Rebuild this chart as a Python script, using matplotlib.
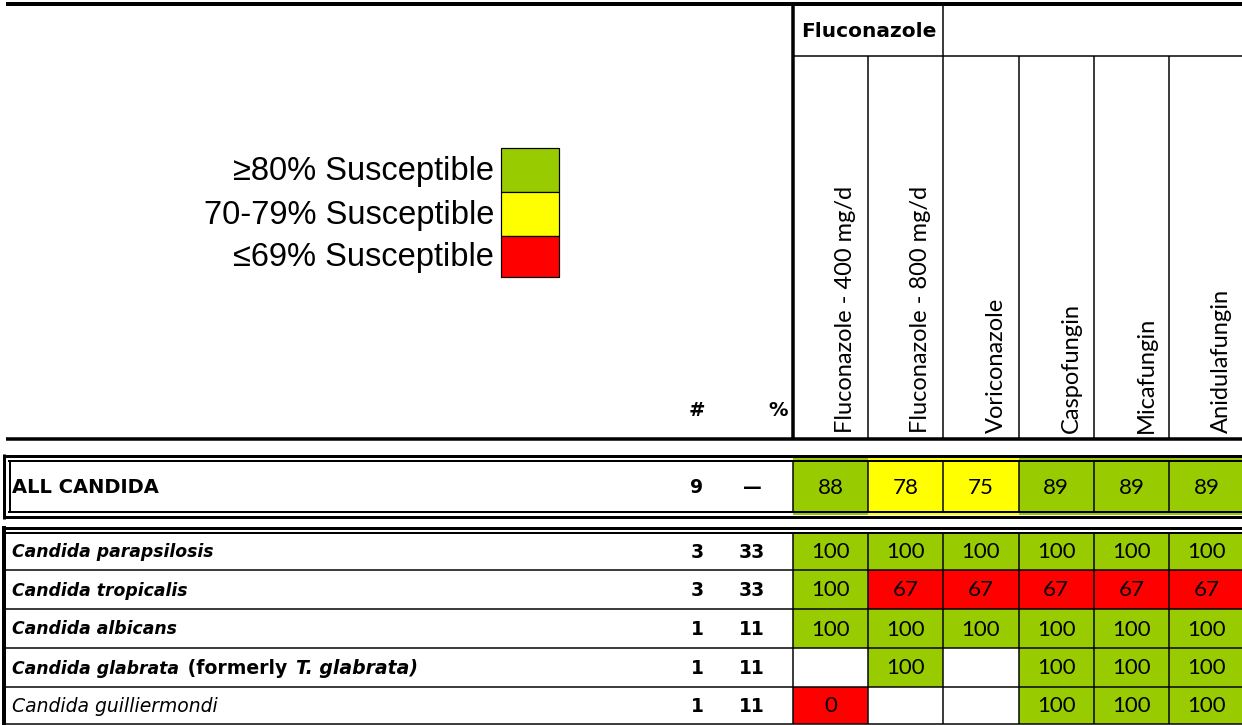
import matplotlib
matplotlib.use('Agg')
import matplotlib.pyplot as plt
from matplotlib.patches import Rectangle

# data
drugs = ['Fluconazole - 400 mg/d', 'Fluconazole - 800 mg/d', 'Voriconazole',
         'Caspofungin', 'Micafungin', 'Anidulafungin']
group_label = 'Fluconazole'
all_label = 'ALL CANDIDA'
all_n = 9
all_pct = '—'
all_vals = [88, 78, 75, 89, 89, 89]
species = ['Candida parapsilosis', 'Candida tropicalis', 'Candida albicans',
           'Candida glabrata', 'Candida guilliermondi']
species_n = [3, 3, 1, 1, 1]
species_pct = [33, 33, 11, 11, 11]
species_vals = [[100, 100, 100, 100, 100, 100],
                [100, 67, 67, 67, 67, 67],
                [100, 100, 100, 100, 100, 100],
                [None, 100, None, 100, 100, 100],
                [0, None, None, 100, 100, 100]]
legend_labels = ['≥80% Susceptible', '70-79% Susceptible', '≤69% Susceptible']

GREEN, YELLOW, RED = '#99cc00', '#ffff00', '#ff0000'
legend_colors = [GREEN, YELLOW, RED]


def cell_color(v):
    if v is None:
        return None
    if v >= 80:
        return GREEN
    if v >= 70:
        return YELLOW
    return RED


W, H = 1242, 725
fig = plt.figure(figsize=(W / 100, H / 100), dpi=100)
ax = fig.add_axes([0, 0, 1, 1])
ax.set_xlim(0, W)
ax.set_ylim(H, 0)
ax.axis('off')

PX = 0.72  # points per pixel


def hline(y, x0, x1, px=1.5):
    ax.plot([x0, x1], [y, y], color='black', lw=px * PX, solid_capstyle='butt')


def vline(x, y0, y1, px=1.5):
    ax.plot([x, x], [y0, y1], color='black', lw=px * PX, solid_capstyle='butt')


# layout (pixels)
col_x0 = 793
col_w = 75.2
col_edges = [col_x0 + i * col_w for i in range(len(drugs) + 1)]
col_mid = [col_x0 + (i + 0.5) * col_w for i in range(len(drugs))]
n_x, pct_x = 697, 752

TAHOMA = 'DejaVu Sans'
CALIBRI = 'Lato'

# ---- legend
leg_top = 148
leg_h = [44, 44, 41]
y = leg_top
for lab, col, h in zip(legend_labels, legend_colors, leg_h):
    ax.add_patch(Rectangle((501, y), 58, h, facecolor=col, edgecolor='black', lw=1.2 * PX))
    ax.text(494, y + h / 2 + 1, lab, ha='right', va='center', fontsize=23.5,
            family='Liberation Sans')
    y += h

# ---- header
hline(3.5, 6, W, 4)
vline(col_x0, 2, 440, 3.5)
vline(col_edges[2], 3, 56, 1.5)
hline(56, col_x0, W, 1.5)
for x in col_edges[1:-1]:
    vline(x, 56, 438, 1.5)
ax.text((col_edges[0] + col_edges[2]) / 2 + 1, 31, group_label, ha='center', va='center',
        fontsize=14.5, fontweight='bold', family=TAHOMA)
for xm, d in zip(col_mid, drugs):
    ax.text(xm + 15, 433, d, rotation=90, ha='center', va='bottom', fontsize=17,
            family=CALIBRI)
ax.text(n_x, 410, '#', ha='center', va='center', fontsize=14, fontweight='bold', family=TAHOMA)
ax.text(788, 410, '%', ha='right', va='center', fontsize=14, fontweight='bold', family=TAHOMA)
hline(438.5, 6, W, 3.5)

# ---- ALL CANDIDA block
all_top, all_bot = 461, 512
for i, v in enumerate(all_vals):
    ax.add_patch(Rectangle((col_edges[i], all_top - 4), col_w, all_bot - all_top + 7,
                           facecolor=cell_color(v), edgecolor='none'))
    ax.text(col_mid[i], (all_top + all_bot) / 2 + 1, str(v), ha='center', va='center',
            fontsize=16, family=CALIBRI)
for x in col_edges[:-1]:
    vline(x, all_top, all_bot, 1.5)
hline(455.5, 3, W, 3)
hline(461, 8, W, 2)
hline(511.5, 8, W, 2)
hline(517, 3, W, 3)
vline(4, 454, 518.5, 3)
vline(9.5, 460, 512.5, 2)
ymid = (all_top + all_bot) / 2 + 1
ax.text(12, ymid, all_label, ha='left', va='center', fontsize=14, fontweight='bold', family=TAHOMA)
ax.text(n_x, ymid, str(all_n), ha='center', va='center', fontsize=13.5, fontweight='bold', family=TAHOMA)
ax.text(pct_x, ymid, all_pct, ha='center', va='center', fontsize=13.5, fontweight='bold', family=TAHOMA)

# ---- species block
row_edges = [532.5, 570, 609, 648, 687, 724]
for r, vals in enumerate(species_vals):
    y0, y1 = row_edges[r], row_edges[r + 1]
    for i, v in enumerate(vals):
        c = cell_color(v)
        if c:
            ax.add_patch(Rectangle((col_edges[i], y0), col_w, y1 - y0, facecolor=c, edgecolor='none'))
            ax.text(col_mid[i], (y0 + y1) / 2 + 1, str(v), ha='center', va='center',
                    fontsize=16, family=CALIBRI)
for y in row_edges[1:]:
    hline(y, 4, W, 1.5)
for x in col_edges[:-1]:
    vline(x, row_edges[0], row_edges[-1], 1.5)
hline(527.5, 2, W, 3)
hline(532.5, 2, W, 2)
vline(4, 526, 725, 4)

fig.canvas.draw()
renderer = fig.canvas.get_renderer()
for r, name in enumerate(species):
    ym = (row_edges[r] + row_edges[r + 1]) / 2 + 1
    last = r == len(species) - 1
    weight = 'normal' if last else 'bold'
    size = 13.5 if last else 12.4
    t = ax.text(12, ym, name, ha='left', va='center', fontsize=size, fontweight=weight,
                style='italic', family=TAHOMA)
    if name == 'Candida glabrata':
        # the rest of this label mixes upright and italic text
        prev = t
        for piece, st in [(' (formerly ', 'normal'), ('T. glabrata)', 'italic')]:
            bb = prev.get_window_extent(renderer)
            x_end = ax.transData.inverted().transform((bb.x1, bb.y0))[0]
            prev = ax.text(x_end + 2, ym, piece, ha='left', va='center', fontsize=13.6,
                           fontweight='bold', style=st, family=TAHOMA)
    ax.text(n_x, ym, str(species_n[r]), ha='center', va='center', fontsize=13.5,
            fontweight='bold', family=TAHOMA)
    ax.text(pct_x, ym, str(species_pct[r]), ha='center', va='center', fontsize=13.5,
            fontweight='bold', family=TAHOMA)

fig.savefig('out.png', dpi=100)
